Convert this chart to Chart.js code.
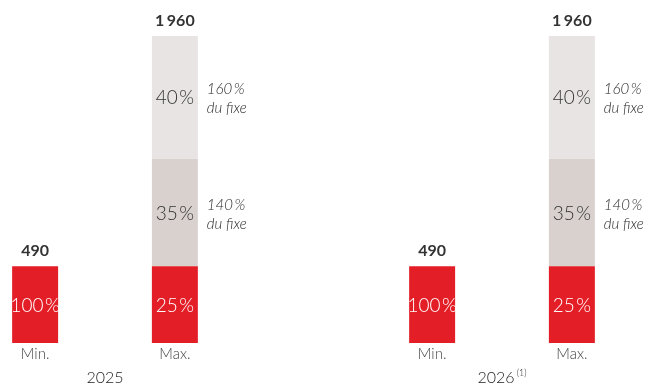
<!DOCTYPE html>
<html lang="fr">
<head>
<meta charset="utf-8">
<script src="https://cdn.jsdelivr.net/npm/chart.js@4"></script>
<style>
  html, body { margin: 0; padding: 0; background: #fff; }
</style>
</head>
<body>
<canvas id="chart" width="649" height="385"></canvas>
<script>
// Data
const years = ['2025', '2026'];
const yearNotes = ['', '(1)'];
const barNames = ['Min.', 'Max.'];
const minValues = [490, 490];
const maxFixe = [490, 490];   // 25 % of the max
const max140 = [686, 686];    // 35 %
const max160 = [784, 784];    // 40 %
const minShares = [100, 100];
const fixeShares = [25, 25];
const shares140 = [35, 35];
const shares160 = [40, 40];
const notes140 = [140, 140];  // % du fixe
const notes160 = [160, 160];
const noteSuffix = 'du fixe';

const RED = '#e31e26';
const GREY_MID = '#d8d1ce';
const GREY_LIGHT = '#e8e4e4';
const TEXT = '#333333';
const FONT = 'Lato, "Open Sans", sans-serif';

// draws "a b" with a thin gap (Lato's narrow space is too wide here)
function drawSpaced(ctx, a, b, gap, x, y, align) {
  const wa = ctx.measureText(a).width;
  const wb = ctx.measureText(b).width;
  const total = wa + gap + wb;
  let left = x;
  if (align === 'center') left = x - total / 2;
  const saved = ctx.textAlign;
  ctx.textAlign = 'left';
  ctx.fillText(a, left, y);
  ctx.fillText(b, left + wa + gap, y);
  ctx.textAlign = saved;
}

function drawNumber(ctx, n, x, y) {
  const s = String(n);
  if (s.length > 3) {
    drawSpaced(ctx, s.slice(0, s.length - 3), s.slice(-3), 2.5, x, y, 'center');
  } else {
    ctx.textAlign = 'center';
    ctx.fillText(s, x, y);
  }
}

const labelsPlugin = {
  id: 'barLabels',
  afterDatasetsDraw(chart) {
    const ctx = chart.ctx;
    const area = chart.chartArea;
    const xs = chart.scales.x;
    ctx.save();
    ctx.textBaseline = 'alphabetic';

    // text inside each segment, and notes on the right
    chart.data.datasets.forEach((ds, di) => {
      const meta = chart.getDatasetMeta(di);
      meta.data.forEach((bar, i) => {
        const midY = (bar.y + bar.base) / 2;
        ctx.font = '300 19px ' + FONT;
        ctx.fillStyle = ds.textColor;
        drawSpaced(ctx, String(ds.shares[i]), '%', 1.5, bar.x, midY + 7, 'center');
        if (ds.notes) {
          ctx.font = 'italic 300 15px ' + FONT;
          ctx.fillStyle = '#2a2a2a';
          const nx = bar.x + bar.width / 2 + 9;
          drawSpaced(ctx, String(ds.notes[i]), '%', 1.5, nx, midY - 3, 'left');
          ctx.textAlign = 'left';
          ctx.fillText(noteSuffix, nx, midY + 16);
        }
      });
    });

    // totals on top, names under each stack
    const stacks = [];
    chart.data.datasets.forEach(ds => {
      if (!stacks.includes(ds.stack)) stacks.push(ds.stack);
    });
    years.forEach((year, i) => {
      stacks.forEach((stack, si) => {
        let total = 0;
        let top = null;
        chart.data.datasets.forEach((ds, di) => {
          if (ds.stack !== stack) return;
          total += ds.data[i];
          top = chart.getDatasetMeta(di).data[i];
        });
        ctx.fillStyle = TEXT;
        ctx.font = 'bold 16px ' + FONT;
        drawNumber(ctx, total, top.x, top.y - 10);
        ctx.textAlign = 'center';
        ctx.fillStyle = '#444444';
        ctx.font = '300 15px ' + FONT;
        ctx.fillText(barNames[si], top.x, area.bottom + 16);
      });

      // year under the group, with its footnote call
      const cx = xs.getPixelForValue(i);
      ctx.font = '300 16px ' + FONT;
      const w = ctx.measureText(year).width;
      ctx.font = '300 9px ' + FONT;
      const sw = yearNotes[i] ? ctx.measureText(yearNotes[i]).width + 2 : 0;
      const left = cx - (w + sw) / 2;
      ctx.textAlign = 'left';
      ctx.fillStyle = '#222222';
      ctx.font = '300 16px ' + FONT;
      ctx.fillText(year, left, 383);
      if (yearNotes[i]) {
        ctx.font = '300 9px ' + FONT;
        ctx.fillText(yearNotes[i], left + w + 2, 376);
      }
    });
    ctx.restore();
  }
};

new Chart(document.getElementById('chart'), {
  type: 'bar',
  data: {
    labels: years,
    datasets: [
      { label: 'Min.', data: minValues, stack: 'min', backgroundColor: RED, shares: minShares, textColor: '#ffffff' },
      { label: 'Max. fixe', data: maxFixe, stack: 'max', backgroundColor: RED, shares: fixeShares, textColor: '#ffffff' },
      { label: 'Max. 140', data: max140, stack: 'max', backgroundColor: GREY_MID, shares: shares140, textColor: TEXT, notes: notes140 },
      { label: 'Max. 160', data: max160, stack: 'max', backgroundColor: GREY_LIGHT, shares: shares160, textColor: TEXT, notes: notes160 }
    ]
  },
  options: {
    responsive: false,
    animation: false,
    layout: { padding: { left: 105, right: 147, top: 36, bottom: 42 } },
    datasets: { bar: { categoryPercentage: 0.704, barPercentage: 0.329, clip: false } },
    plugins: { legend: { display: false }, tooltip: { enabled: false } },
    scales: {
      x: { display: false, offset: false, stacked: true, grid: { display: false } },
      y: { display: false, stacked: true, min: 0, max: 1960 }
    }
  },
  plugins: [labelsPlugin]
});
</script>
</body>
</html>
